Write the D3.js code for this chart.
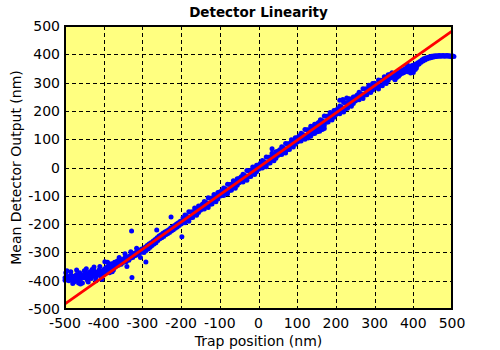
<!DOCTYPE html>
<html><head><meta charset="utf-8">
<script src="https://cdn.jsdelivr.net/npm/d3@7"></script>
<style>html,body{margin:0;padding:0;background:#fff;}svg{display:block;}</style>
</head><body>
<svg id="chart" width="500" height="350"></svg>
<script>
const titleText = "Detector Linearity";
const xLabel = "Trap position (nm)";
const yLabel = "Mean Detector Output (nm)";
const xTicks = [-500,-400,-300,-200,-100,0,100,200,300,400,500];
const yTicks = [-500,-400,-300,-200,-100,0,100,200,300,400,500];

// fitted line (red)
const fitLine = [[-500,-482],[500,482]];

// measured points (blue)
const measured = [
[-500,-398],[-500,-390],[-498,-372],[-495,-395],[-492,-385],[-490,-400],[-487,-392],[-485,-380],[-482,-397],[-480,-388],
[-477,-405],[-475,-383],[-472,-393],[-470,-378],[-467,-400],[-465,-386],[-462,-372],[-460,-395],[-457,-382],[-455,-408],
[-452,-378],[-450,-390],[-447,-370],[-445,-385],[-442,-398],[-440,-375],[-437,-388],[-435,-368],[-432,-392],[-430,-378],
[-427,-383],[-425,-365],[-422,-375],[-420,-388],[-417,-370],[-415,-380],[-412,-362],[-410,-372],[-407,-383],[-405,-367],
[-402,-375],[-400,-360],
[-495,-365],[-480,-410],[-470,-362],[-460,-412],[-450,-365],[-440,-405],[-430,-360],[-420,-400],[-410,-350],[-405,-395],
[-425,-352],[-445,-358],[-485,-368],[-465,-408],
[-397,-370],[-395,-355],[-392,-365],[-390,-350],[-387,-362],[-385,-345],[-382,-358],[-380,-340],[-378,-368],[-375,-348],
[-372,-335],[-370,-352],[-367,-340],[-365,-330],[-362,-345],[-360,-335],[-357,-328],[-355,-342],[-352,-325],[-350,-336],
[-347,-330],[-345,-318],[-342,-333],[-340,-322],[-337,-315],[-335,-328],[-332,-312],[-330,-320],[-327,-308],[-325,-318],
[-322,-304],[-320,-312],[-317,-300],[-315,-309],[-312,-296],[-310,-304],[-307,-292],[-305,-300],[-302,-288],[-300,-298],
[-390,-335],[-385,-372],[-345,-305],[-340,-350],[-305,-318],[-315,-285],[-397,-333],[-375,-362],[-360,-318],[-330,-298],
[-298,-288],[-296,-300],[-293,-282],[-291,-294],[-288,-276],[-285,-288],[-283,-270],[-280,-282],[-278,-266],[-275,-276],
[-272,-260],[-270,-270],[-267,-254],[-265,-266],[-262,-248],[-260,-258],[-257,-242],[-255,-252],[-252,-238],[-250,-248],
[-247,-232],[-245,-244],[-242,-228],[-240,-238],[-237,-224],[-235,-234],[-232,-220],[-230,-230],[-227,-214],[-225,-224],
[-222,-210],[-220,-220],[-217,-205],[-215,-215],[-212,-200],[-210,-210],[-207,-195],[-205,-205],[-202,-190],[-200,-200],
[-328,-224],[-327,-389],[-291,-334],[-198,-245],[-226,-175],[-263,-221],
[-195,-178],[-195,-195],[-190,-168],[-190,-195],[-185,-172],[-185,-182],[-180,-156],[-180,-190],[-175,-157],[-175,-178],
[-170,-156],[-170,-177],[-165,-143],[-165,-164],[-160,-149],[-160,-169],[-155,-136],[-155,-159],[-150,-136],[-150,-151],
[-145,-130],[-145,-147],[-140,-120],[-140,-147],[-135,-124],[-135,-134],[-130,-107],[-130,-141],[-125,-109],[-125,-130],
[-120,-108],[-120,-129],[-115,-95],[-115,-116],[-110,-101],[-110,-121],[-105,-88],[-105,-111],[-100,-87],[-100,-102],
[-95,-82],[-95,-99],[-90,-72],[-90,-99],[-85,-76],[-85,-86],[-80,-59],[-80,-93],[-75,-60],[-75,-81],
[-70,-59],[-70,-80],[-65,-47],[-65,-68],[-60,-53],[-60,-73],[-55,-40],[-55,-63],[-50,-39],[-50,-54],
[-45,-33],[-45,-50],[-40,-24],[-40,-51],[-35,-28],[-35,-38],[-30,-11],[-30,-45],[-25,-12],[-25,-33],
[-20,-11],[-20,-32],[-15,2],[-15,-19],[-10,-5],[-10,-25],[-5,8],[-5,-15],[0,9],[0,-6],
[5,15],[5,-2],[10,25],[10,-2],[15,20],[15,10],[20,37],[20,3],[25,36],[25,15],
[30,37],[30,16],[35,50],[35,29],[40,44],[40,24],[45,56],[45,33],[50,57],[50,42],
[55,63],[55,46],[60,73],[60,46],[65,69],[65,59],[70,85],[70,51],[75,84],[75,63],
[80,85],[80,64],[85,98],[85,77],[90,92],[90,72],[95,105],[95,82],[100,105],[100,90],
[105,111],[105,94],[110,121],[110,94],[115,117],[115,107],[120,134],[120,100],[125,133],[125,112],
[130,133],[130,112],[135,146],[135,125],[140,140],[140,120],[145,153],[145,130],[150,154],[150,139],
[155,159],[155,142],[160,169],[160,142],[165,165],[165,155],[170,182],[170,148],[175,181],[175,160],
[180,182],[180,161],[185,194],[185,173],[190,188],[190,168],[195,201],[195,178],[200,202],[200,187],
[205,208],[205,191],[210,217],[210,190],[215,213],[215,203],[220,230],[220,196],[225,229],[225,208],
[230,230],[230,209],[235,243],[235,222],[240,236],[240,216],[245,249],[245,226],[250,250],[250,235],
[255,256],[255,239],[260,266],[260,239],[265,261],[265,251],[270,278],[270,244],[275,277],[275,256],
[280,278],[280,257],[285,291],[285,270],[290,285],[290,265],[295,297],[295,274],[300,298],[300,283],
[305,292],[305,284],[310,309],[310,277],[315,308],[315,289],[320,308],[320,289],[325,321],[325,302],
[330,315],[330,297],[335,328],[335,307],[340,329],[340,316],[345,335],[345,320],
[35,66],[128,104],[135,110],[145,120],[152,126],[158,128],[165,134],[170,138],
[210,238],[218,240],[228,246],
[350,324],[352,312],[353,310],[355,330],[357,318],[360,334],[362,322],[365,328],[367,340],[370,332],
[372,344],[375,335],[377,347],[380,340],[382,352],[385,338],[387,354],[390,346],[392,357],[395,350],
[397,360],[400,352],[400,336],[402,362],[405,356],[407,366],[410,360],[412,370],[415,366],[417,375],
[385,362],[398,340],[393,334],[405,346],[408,352],
[420,372],[422,380],[425,376],[427,384],[430,380],[432,387],[435,383],[437,389],[440,386],[442,391],
[445,388],[447,393],[450,390],[452,394],[455,391],[457,395],[460,392],[462,395],[465,393],[467,396],
[470,393],[472,395],[475,394],[477,396],[480,393],[482,395],[485,394],[487,396],[490,393],[492,395],
[495,394],[497,392],[500,393],[502,394],[505,392]
];

const svg = d3.select("#chart");
const L = 65, R = 452, T = 26, B = 309;
const x = d3.scaleLinear().domain([-500,500]).range([L,R]);
const y = d3.scaleLinear().domain([-500,500]).range([B,T]);
const font = "'DejaVu Sans', Verdana, sans-serif";

svg.append("rect").attr("x",L).attr("y",T).attr("width",R-L).attr("height",B-T).attr("fill","#ffff80");

// grid
const g = svg.append("g");
g.selectAll("line.gx").data(xTicks.slice(1,-1)).enter().append("line")
  .attr("x1",d=>Math.round(x(d))+0.5).attr("x2",d=>Math.round(x(d))+0.5).attr("y1",T).attr("y2",B)
  .attr("stroke","#000").attr("stroke-width",1).attr("stroke-dasharray","4,3");
g.selectAll("line.gy").data(yTicks.slice(1,-1)).enter().append("line")
  .attr("y1",d=>Math.round(y(d))+0.5).attr("y2",d=>Math.round(y(d))+0.5).attr("x1",L).attr("x2",R)
  .attr("stroke","#000").attr("stroke-width",1).attr("stroke-dasharray","4,3");

// points
svg.append("g").selectAll("circle").data(measured).enter().append("circle")
  .attr("cx",d=>x(d[0])).attr("cy",d=>y(d[1])).attr("r",2.5).attr("fill","#0000ff");

// fit
svg.append("path").datum(fitLine)
  .attr("d", d3.line().x(d=>x(d[0])).y(d=>y(d[1])))
  .attr("fill","none").attr("stroke","#ff0000").attr("stroke-width",2.8);

// border
svg.append("rect").attr("x",L).attr("y",T).attr("width",R-L).attr("height",B-T)
  .attr("fill","none").attr("stroke","#000").attr("stroke-width",2);

// tick labels
svg.append("g").selectAll("text").data(xTicks).enter().append("text")
  .attr("x",d=>x(d)).attr("y",328).attr("text-anchor","middle")
  .attr("font-family",font).attr("font-size",14).attr("fill","#000").text(d=>d);
svg.append("g").selectAll("text").data(yTicks).enter().append("text")
  .attr("x",60).attr("y",d=>y(d)+5).attr("text-anchor","end")
  .attr("font-family",font).attr("font-size",14).attr("fill","#000").text(d=>d);

svg.append("text").attr("x",(L+R)/2).attr("y",17).attr("text-anchor","middle")
  .attr("font-family",font).attr("font-size",13.5).attr("font-weight","bold").text(titleText);
svg.append("text").attr("x",(L+R)/2).attr("y",346).attr("text-anchor","middle")
  .attr("font-family",font).attr("font-size",14).text(xLabel);
svg.append("text").attr("transform","translate(21,"+((T+B)/2)+") rotate(-90)").attr("text-anchor","middle")
  .attr("font-family",font).attr("font-size",14).text(yLabel);
</script>
</body></html>
